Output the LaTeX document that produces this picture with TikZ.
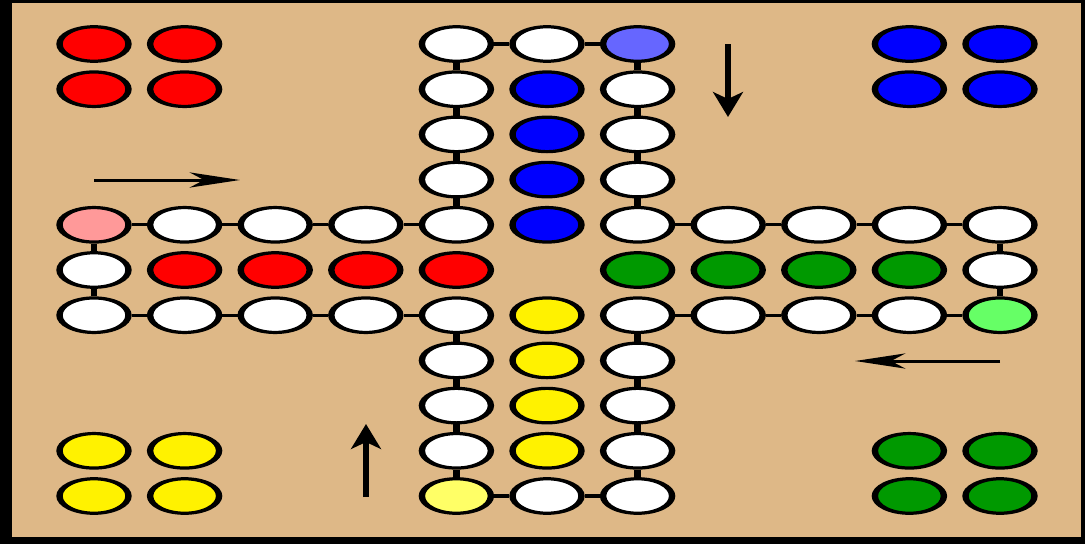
\documentclass[tikz,border=0pt]{standalone}
\usetikzlibrary{arrows.meta}
\definecolor{board}{RGB}{222,184,135}
\definecolor{pgreen}{RGB}{0,153,0}
\definecolor{lred}{RGB}{255,153,153}
\definecolor{lblue}{RGB}{102,102,255}
\definecolor{lgreen}{RGB}{102,255,102}
\definecolor{lyellow}{RGB}{255,255,102}
\begin{document}
\begin{tikzpicture}[x=1pt,y=-1pt]
\useasboundingbox (0,0) rectangle (1085,544);
\fill[black] (0,0) rectangle (1085,544);
\fill[board] (12,3) rectangle (1081,537);
\begin{scope}[transform canvas={xscale=2}, x=0.5pt, y=-1pt,
  field/.style={circle, draw=black, line width=3.2pt, minimum size=34.5pt, inner sep=0pt, fill=white},
  link/.style={line width=3.2pt},
  dirarrow/.style={line width=3pt, -{Stealth[length=25pt,width=15pt,inset=7pt]}}]
  % track fields
  \foreach \c/\r/\f in {4/0/white,4/1/white,4/2/white,4/3/white,4/4/white,5/0/white,6/0/lblue,6/1/white,6/2/white,6/3/white,6/4/white,
    7/4/white,8/4/white,9/4/white,10/4/white,10/5/white,10/6/lgreen,9/6/white,8/6/white,7/6/white,6/6/white,
    6/7/white,6/8/white,6/9/white,6/10/white,5/10/white,4/10/lyellow,4/9/white,4/8/white,4/7/white,4/6/white,
    3/6/white,2/6/white,1/6/white,0/6/white,0/5/white,0/4/lred,1/4/white,2/4/white,3/4/white,
    5/1/blue,5/2/blue,5/3/blue,5/4/blue,
    6/5/pgreen,7/5/pgreen,8/5/pgreen,9/5/pgreen,
    5/6/yellow,5/7/yellow,5/8/yellow,5/9/yellow,
    1/5/red,2/5/red,3/5/red,4/5/red,
    0/0/red,1/0/red,0/1/red,1/1/red,
    9/0/blue,10/0/blue,9/1/blue,10/1/blue,
    0/9/yellow,1/9/yellow,0/10/yellow,1/10/yellow,
    9/9/pgreen,10/9/pgreen,9/10/pgreen,10/10/pgreen}
    \node[field, fill=\f] (n\c-\r) at ({94+90.6*\c},{44+45.2*\r}) {};
  % track connectors
  \draw[link] (n0-4) -- (n1-4) -- (n2-4) -- (n3-4) -- (n4-4) -- (n4-3) -- (n4-2) -- (n4-1) -- (n4-0)
    -- (n5-0) -- (n6-0) -- (n6-1) -- (n6-2) -- (n6-3) -- (n6-4) -- (n7-4) -- (n8-4) -- (n9-4) -- (n10-4)
    -- (n10-5) -- (n10-6) -- (n9-6) -- (n8-6) -- (n7-6) -- (n6-6) -- (n6-7) -- (n6-8) -- (n6-9) -- (n6-10)
    -- (n5-10) -- (n4-10) -- (n4-9) -- (n4-8) -- (n4-7) -- (n4-6) -- (n3-6) -- (n2-6) -- (n1-6) -- (n0-6)
    -- (n0-5) -- (n0-4);
  % direction arrows
  \coordinate (aL1) at (94,180);  \coordinate (aL2) at (240,180);
  \coordinate (aT1) at (728,44);  \coordinate (aT2) at (728,117);
  \coordinate (aR1) at (1000,361); \coordinate (aR2) at (855,361);
  \coordinate (aB1) at (366,497); \coordinate (aB2) at (366,424);
  \draw[dirarrow] (aL1) -- (aL2);
  \draw[dirarrow] (aT1) -- (aT2);
  \draw[dirarrow] (aR1) -- (aR2);
  \draw[dirarrow] (aB1) -- (aB2);
\end{scope}
\end{tikzpicture}
\end{document}
